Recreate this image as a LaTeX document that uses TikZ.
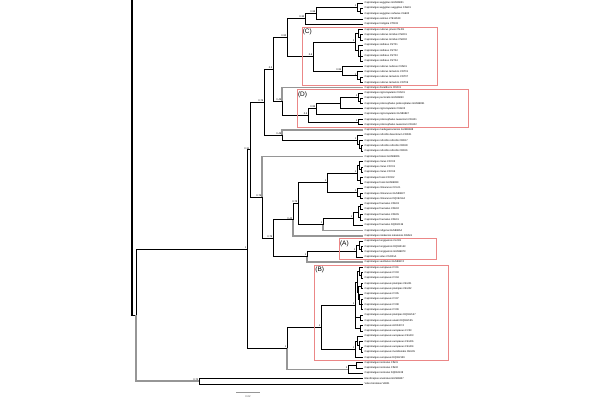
\documentclass[tikz,border=0pt]{standalone}
\usepackage{fontspec}
\setmainfont{Liberation Sans}
\usetikzlibrary{calc}
\definecolor{boxred}{RGB}{235,135,135}
\definecolor{branchgray}{RGB}{150,150,150}
\tikzset{
 br/.style={line width=0.7pt, black},
 gbr/.style={line width=1.6pt, branchgray},
 leaflabel/.style={anchor=west, inner sep=0pt, font=\fontsize{2.55}{3}\selectfont},
 bslabel/.style={anchor=south east, inner sep=0pt, font=\fontsize{2.5}{3}\selectfont},
 cladebox/.style={draw=boxred, line width=0.7pt},
 cladelabel/.style={anchor=west, inner sep=0pt, font=\fontsize{6.5}{7}\selectfont},
 scalebar/.style={line width=0.6pt, branchgray},
}
\newcommand{\bsl}[2]{\node[bslabel] (b-#1) at ([xshift=-0.5pt,yshift=0.4pt]#1) {#2};}
\begin{document}
\begin{tikzpicture}[x=1pt,y=-1pt]
\useasboundingbox (0,0) rectangle (600,400);
% leaves
\foreach \i/\t in {
1/{Caprimulgus aegyptius GU586831},
2/{Caprimulgus aegyptius aegyptius CAE01},
3/{Caprimulgus aegyptius saharae CAE02},
4/{Caprimulgus eximius LTE11539},
5/{Caprimulgus tristigma CTR03},
6/{Caprimulgus nubicus jonesi CNJ01},
7/{Caprimulgus nubicus torridus CNO01},
8/{Caprimulgus nubicus torridus CNO02},
9/{Caprimulgus stellatus CST01},
10/{Caprimulgus stellatus CST02},
11/{Caprimulgus stellatus CST03},
12/{Caprimulgus stellatus CST04},
13/{Caprimulgus nubicus nubicus CNN01},
14/{Caprimulgus nubicus tamaricis CNT01},
15/{Caprimulgus nubicus tamaricis CNT07},
16/{Caprimulgus nubicus tamaricis CNT06},
17/{Caprimulgus donaldsoni CDO01},
18/{Caprimulgus nigriscapularis CNS01},
19/{Caprimulgus pectoralis GU586850},
20/{Caprimulgus poliocephalus poliocephalus GU586851},
21/{Caprimulgus nigriscapularis CNG02},
22/{Caprimulgus nigriscapularis GU586847},
23/{Caprimulgus poliocephalus ruwenzorii CRU01},
24/{Caprimulgus poliocephalus ruwenzorii CRU02},
25/{Caprimulgus madagascariensis GU586848},
26/{Caprimulgus ruficollis desertorum CRD01},
27/{Caprimulgus ruficollis ruficollis CRR17},
28/{Caprimulgus ruficollis ruficollis CRR30},
29/{Caprimulgus ruficollis ruficollis CRR31},
30/{Caprimulgus batesi GU586826},
31/{Caprimulgus clarus CFC02},
32/{Caprimulgus clarus CFC01},
33/{Caprimulgus clarus CFC04},
34/{Caprimulgus fossii CFO02},
35/{Caprimulgus fossii GU586839},
36/{Caprimulgus climacurus CCL01},
37/{Caprimulgus climacurus GU586837},
38/{Caprimulgus climacurus DQ062144},
39/{Caprimulgus fraenatus CFE03},
40/{Caprimulgus fraenatus CFE02},
41/{Caprimulgus fraenatus CFE05},
42/{Caprimulgus fraenatus CFE01},
43/{Caprimulgus fraenatus DQ062136},
44/{Caprimulgus rufigena GU586854},
45/{Caprimulgus natalensis natalensis DNA01},
46/{Caprimulgus longipennis CLO01},
47/{Caprimulgus longipennis DQ062143},
48/{Caprimulgus longipennis GU586873},
49/{Caprimulgus solus CSO01A},
50/{Caprimulgus vexillarius GU586874},
51/{Caprimulgus europaeus CV01},
52/{Caprimulgus europaeus CV03},
53/{Caprimulgus europaeus CV04},
54/{Caprimulgus europaeus plumipes CEU01},
55/{Caprimulgus europaeus plumipes CEU02},
56/{Caprimulgus europaeus CV05},
57/{Caprimulgus europaeus CV07},
58/{Caprimulgus europaeus CV08},
59/{Caprimulgus europaeus CV09},
60/{Caprimulgus europaeus plumipes DQ062147},
61/{Caprimulgus europaeus unwini DQ062135},
62/{Caprimulgus europaeus AJ004074},
63/{Caprimulgus europaeus europaeus CV23},
64/{Caprimulgus europaeus europaeus CEU03},
65/{Caprimulgus europaeus europaeus CEU06},
66/{Caprimulgus europaeus europaeus CEU04},
67/{Caprimulgus europaeus meridionalis CEU05},
68/{Caprimulgus europaeus DQ062139},
69/{Caprimulgus inornatus CIN01},
70/{Caprimulgus inornatus CIN02},
71/{Caprimulgus inornatus DQ062138},
72/{Eleothreptus anomalus GU586827},
73/{Veles binotatus VBI01}}{
  \coordinate (t\i) at (362.5,{3+(\i-1)*5.29});
  \node[leaflabel] (lab\i) at (364.5,{3+(\i-1)*5.29}) {\t};
}
% internal nodes
\coordinate (naegB) at (360,10.94);
\coordinate (naeg) at (357,6.97);
\coordinate (nZ096) at (316,12.92);
\coordinate (nZ034) at (305,18.54);
\coordinate (ntor) at (360,37.39);
\coordinate (njt) at (358,33.42);
\coordinate (nstB) at (360,55.90);
\coordinate (nst) at (358,50.61);
\coordinate (nup) at (355,42.02);
\coordinate (ntamB) at (360,79.71);
\coordinate (ntam) at (357,75.74);
\coordinate (nnub) at (342,71.11);
\coordinate (nCsix) at (313,56.57);
\coordinate (nZ092) at (287,37.56);
\coordinate (npecB) at (360,100.87);
\coordinate (npec) at (358,96.90);
\coordinate (nDa) at (340,102.85);
\coordinate (nD095) at (316,108.47);
\coordinate (nruw) at (358,122.03);
\coordinate (nDsix) at (308,115.25);
\coordinate (nZ049a) at (282,101.45);
\coordinate (nZ03) at (273,69.50);
\coordinate (nrufC) at (361,148.48);
\coordinate (nrufB) at (359,144.51);
\coordinate (nruf) at (357,139.88);
\coordinate (nZ049b) at (282,134.92);
\coordinate (nZ076a) at (264,102.21);
\coordinate (nclB) at (361,169.64);
\coordinate (ncl) at (359,165.67);
\coordinate (nfo) at (360,180.22);
\coordinate (ncf) at (357,172.95);
\coordinate (nclimB) at (360,196.09);
\coordinate (nclim) at (357,192.12);
\coordinate (ncc) at (327,182.53);
\coordinate (nfrB) at (360,206.67);
\coordinate (nfrC) at (360,217.25);
\coordinate (nfr) at (358,211.96);
\coordinate (nfrD) at (353,218.57);
\coordinate (nfrr) at (323,224.52);
\coordinate (nZ073) at (298,203.53);
\coordinate (nZ042) at (293,219.65);
\coordinate (nlonB) at (361,248.99);
\coordinate (nlon) at (359,245.02);
\coordinate (nAcl) at (356,250.97);
\coordinate (nAv) at (307,256.59);
\coordinate (nZ079) at (273,238.12);
\coordinate (nZ076b) at (262,197.27);
\coordinate (nZ031) at (250,149.74);
\coordinate (nUoneB) at (361,275.44);
\coordinate (nUone) at (359,271.47);
\coordinate (nUtwoA) at (361,286.02);
\coordinate (nUtwoC) at (361,304.53);
\coordinate (nUtwoB) at (359,299.24);
\coordinate (nUtwo) at (358,292.63);
\coordinate (nUa) at (357,282.05);
\coordinate (nUb) at (360,317.76);
\coordinate (nUc) at (360,328.34);
\coordinate (nU) at (355,305.20);
\coordinate (nLd) at (361,349.50);
\coordinate (nLc) at (359.5,345.53);
\coordinate (nLb) at (357.5,340.90);
\coordinate (nL) at (355,349.17);
\coordinate (nEone) at (321,327.19);
\coordinate (ninB) at (356,365.37);
\coordinate (nin) at (348,369.34);
\coordinate (nOneB) at (287,348.27);
\coordinate (nAroot) at (247,249.01);
\coordinate (nOut) at (199,381.24);
\coordinate (nR) at (136,315.12);
\coordinate (rootL) at (130.5,315.12);
\coordinate (barTop) at (132,0);
\coordinate (barBot) at (132,315.12);
% left bar and root
\draw[line width=1.6pt] (barTop) -- (barBot);
\draw[br] (rootL) -- (nR);
% gray branches
\draw[gbr] (nZ049a) |- (t17);
\draw[gbr] (nZ049b) |- (t25);
\draw[gbr] (nZ076b) |- (t30);
\draw[gbr] (nfrr) |- (t44);
\draw[gbr] (nZ042) |- (t45);
\draw[gbr] (nAv) |- (t50);
\draw[gbr] (nOneB) |- (nin);
\draw[gbr] (nR) |- (nOut);
% black branches
\foreach \p/\c in {naegB/t2, naegB/t3, naeg/t1, naeg/naegB, nZ096/naeg, nZ096/t4,
  nZ034/nZ096, nZ034/t5, ntor/t7, ntor/t8, njt/t6, njt/ntor,
  nstB/t10, nstB/t11, nstB/t12, nst/t9, nst/nstB, nup/njt, nup/nst,
  ntamB/t15, ntamB/t16, ntam/t14, ntam/ntamB, nnub/t13, nnub/ntam,
  nCsix/nup, nCsix/nnub, nZ092/nZ034, nZ092/nCsix,
  npecB/t19, npecB/t20, npec/t18, npec/npecB, nDa/npec, nDa/t21,
  nD095/nDa, nD095/t22, nruw/t23, nruw/t24, nDsix/nD095, nDsix/nruw,
  nZ049a/nDsix, nZ03/nZ092, nZ03/nZ049a,
  nrufC/t28, nrufC/t29, nrufB/t27, nrufB/nrufC, nruf/t26, nruf/nrufB,
  nZ049b/nruf, nZ076a/nZ03, nZ076a/nZ049b,
  nclB/t32, nclB/t33, ncl/t31, ncl/nclB, nfo/t34, nfo/t35, ncf/ncl, ncf/nfo,
  nclimB/t37, nclimB/t38, nclim/t36, nclim/nclimB, ncc/ncf, ncc/nclim,
  nfrB/t39, nfrB/t40, nfrC/t41, nfrC/t42, nfr/nfrB, nfr/nfrC, nfrD/nfr, nfrD/t43,
  nfrr/nfrD, nZ073/ncc, nZ073/nfrr, nZ042/nZ073,
  nlonB/t47, nlonB/t48, nlon/t46, nlon/nlonB, nAcl/nlon, nAcl/t49, nAv/nAcl,
  nZ079/nZ042, nZ079/nAv, nZ076b/nZ079, nZ031/nZ076a, nZ031/nZ076b,
  nUoneB/t52, nUoneB/t53, nUone/t51, nUone/nUoneB,
  nUtwoA/t54, nUtwoA/t55, nUtwoC/t57, nUtwoC/t58, nUtwoC/t59,
  nUtwoB/t56, nUtwoB/nUtwoC, nUtwo/nUtwoA, nUtwo/nUtwoB,
  nUa/nUone, nUa/nUtwo, nUb/t60, nUb/t61, nUc/t62, nUc/t63,
  nU/nUa, nU/nUb, nU/nUc,
  nLd/t66, nLd/t67, nLc/t65, nLc/nLd, nLb/t64, nLb/nLc, nL/nLb, nL/t68,
  nEone/nU, nEone/nL, ninB/t69, ninB/t70, nin/ninB, nin/t71,
  nOneB/nEone, nAroot/nZ031, nAroot/nOneB, nOut/t72, nOut/t73, nR/nAroot}{
  \draw[br] (\p) |- (\c);
}
% support values
\bsl{nZ096}{0.96}
\bsl{nZ034}{0.34}
\bsl{nZ092}{0.92}
\bsl{nCsix}{0.6}
\bsl{nnub}{0.95}
\bsl{nZ03}{0.3}
\bsl{nZ076a}{0.76}
\bsl{nZ049a}{0.49}
\bsl{nDsix}{0.6}
\bsl{nD095}{0.95}
\bsl{nZ049b}{0.49}
\bsl{nZ031}{0.31}
\bsl{nZ076b}{0.76}
\bsl{nZ079}{0.79}
\bsl{nZ042}{0.42}
\bsl{nZ073}{0.73}
\bsl{ncc}{1}
\bsl{nfrr}{1}
\bsl{nAv}{1}
\bsl{nEone}{1}
\bsl{nOneB}{1}
\bsl{nAroot}{1}
\bsl{nOut}{0.74}
\bsl{naeg}{1}
\bsl{nup}{1}
\bsl{ntam}{1}
\bsl{npec}{1}
\bsl{nruw}{1}
\bsl{nruf}{1}
\bsl{ncf}{1}
\bsl{nclim}{1}
\bsl{nfrD}{1}
\bsl{nAcl}{1}
\bsl{nU}{1}
\bsl{nL}{1}
\bsl{nin}{1}
% clade boxes
\draw[cladebox] (302,27.3) rectangle (437,85);
\draw[cladebox] (297,89.3) rectangle (468,127.3);
\draw[cladebox] (339.3,238.6) rectangle (436,259.4);
\draw[cladebox] (314.5,265.6) rectangle (448,360.3);
\node[cladelabel] (labC) at (302.6,31.4) {(C)};
\node[cladelabel] (labD) at (297.8,94.4) {(D)};
\node[cladelabel] (labA) at (339.8,243.8) {(A)};
\node[cladelabel] (labB) at (315.2,269.6) {(B)};
% scale bar
\coordinate (sbL) at (236,391.8);
\coordinate (sbR) at (260,391.8);
\draw[scalebar] (sbL) -- (sbR);
\node[inner sep=0pt, font=\fontsize{2.6}{3}\selectfont, text=black!70] (sbT) at (248,396.6) {0.02};
\end{tikzpicture}
\end{document}
